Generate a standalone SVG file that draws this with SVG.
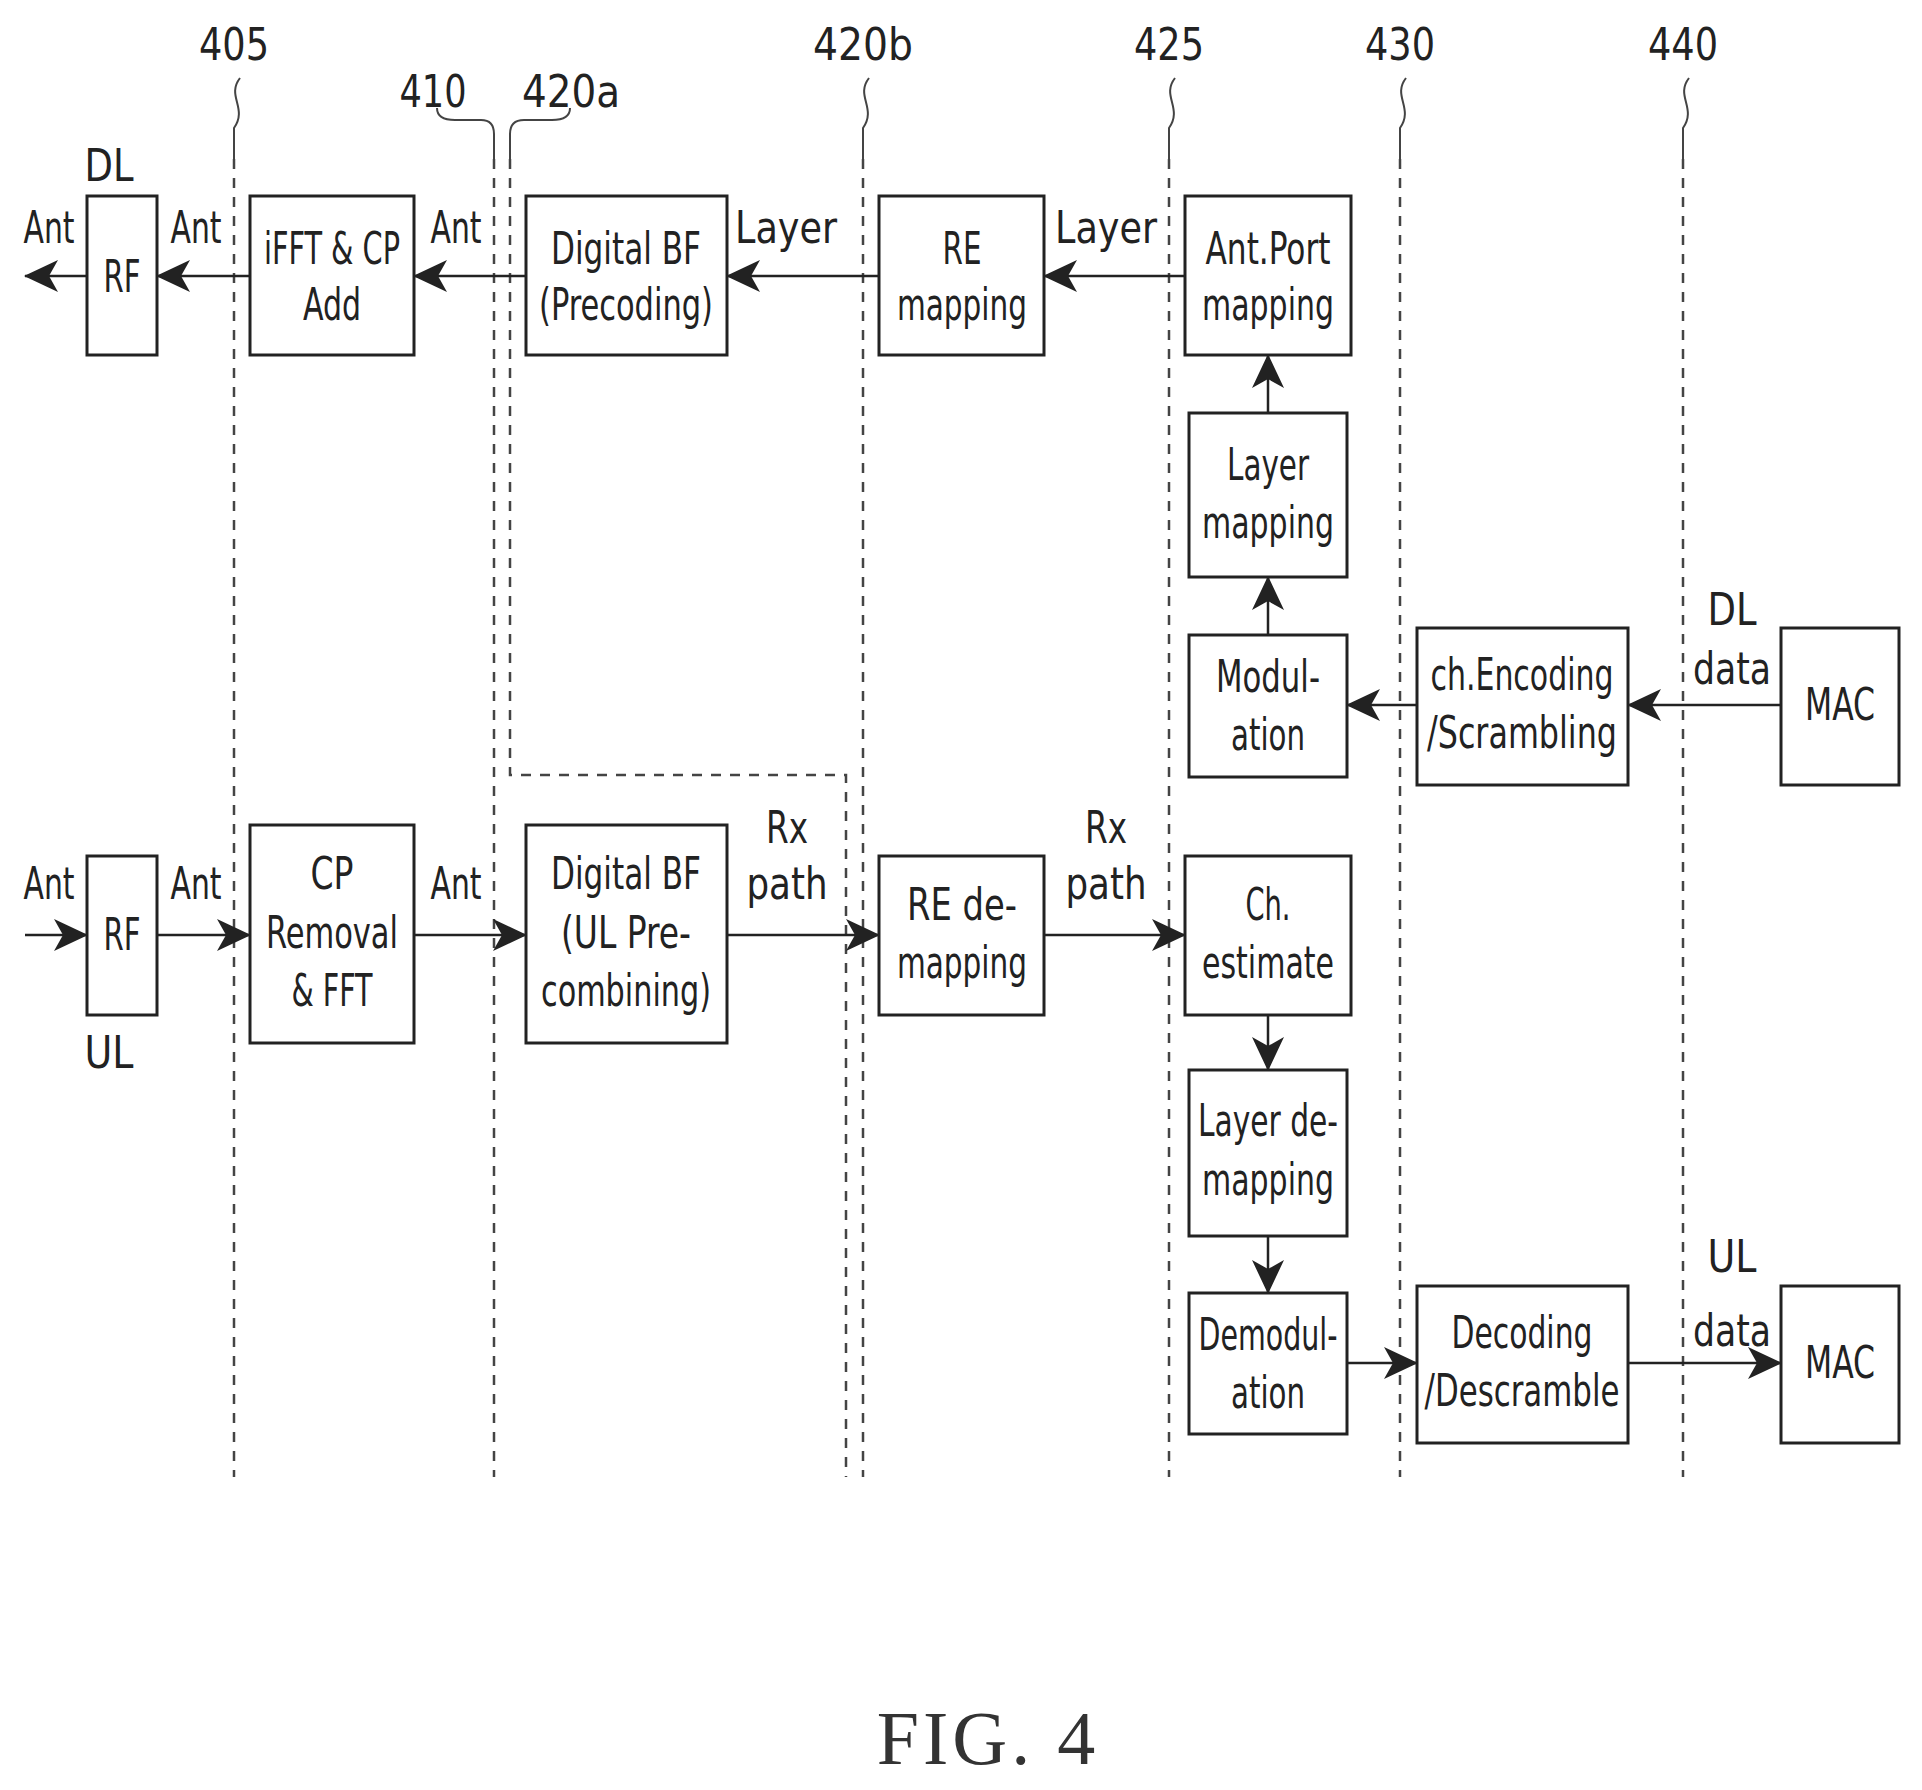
<svg xmlns="http://www.w3.org/2000/svg" width="1922" height="1790" viewBox="0 0 1922 1790">
<style>
.b{fill:#fff;stroke:#222;stroke-width:3}
.t{font-family:"DejaVu Sans Condensed","DejaVu Sans",sans-serif;font-stretch:condensed;font-size:44px;fill:#222;text-anchor:middle}
.c{stroke:#222;stroke-width:2.5;fill:none}
.d{stroke:#444;stroke-width:2.5;fill:none;stroke-dasharray:10,9}
.w{stroke:#444;stroke-width:2;fill:none}
</style>
<defs>
<marker id="a" viewBox="0 0 34 32" refX="33" refY="16" markerWidth="34" markerHeight="32" markerUnits="userSpaceOnUse" orient="auto">
<path d="M0,0 L34,16 L0,32 L9,16 Z" fill="#222"/>
</marker>
</defs>
<rect width="1922" height="1790" fill="#fff"/>
<g id="guides">
<path class="d" d="M234,159 V1477"/>
<path class="d" d="M494,159 V1477"/>
<path class="d" d="M510,159 V775 H846 V1477"/>
<path class="d" d="M863,159 V1477"/>
<path class="d" d="M1169,159 V1477"/>
<path class="d" d="M1400,159 V1477"/>
<path class="d" d="M1683,159 V1477"/>
<path class="w" d="M240,78 c-14,18 8,30 -6,50 v31"/>
<path class="w" d="M437,108 q0,12 18,12 h26 q13,0 13,14 v25"/>
<path class="w" d="M570,108 q0,12 -18,12 h-28 q-14,0 -14,14 v25"/>
<path class="w" d="M869,78 c-14,18 8,30 -6,50 v31"/>
<path class="w" d="M1175,78 c-14,18 8,30 -6,50 v31"/>
<path class="w" d="M1406,78 c-14,18 8,30 -6,50 v31"/>
<path class="w" d="M1689,78 c-14,18 8,30 -6,50 v31"/>
<text class="t" x="234" y="60" textLength="70" lengthAdjust="spacingAndGlyphs">405</text>
<text class="t" x="433" y="107" textLength="67" lengthAdjust="spacingAndGlyphs">410</text>
<text class="t" x="571" y="107" textLength="98" lengthAdjust="spacingAndGlyphs">420a</text>
<text class="t" x="863" y="60" textLength="100" lengthAdjust="spacingAndGlyphs">420b</text>
<text class="t" x="1169" y="60" textLength="70" lengthAdjust="spacingAndGlyphs">425</text>
<text class="t" x="1400" y="60" textLength="70" lengthAdjust="spacingAndGlyphs">430</text>
<text class="t" x="1683" y="60" textLength="70" lengthAdjust="spacingAndGlyphs">440</text>
</g>
<g id="connectors">
<path class="c" marker-end="url(#a)" d="M87,276 H25"/>
<path class="c" marker-end="url(#a)" d="M250,276 H157"/>
<path class="c" marker-end="url(#a)" d="M526,276 H414"/>
<path class="c" marker-end="url(#a)" d="M879,276 H727"/>
<path class="c" marker-end="url(#a)" d="M1185,276 H1044"/>
<path class="c" marker-end="url(#a)" d="M1268,413 V355"/>
<path class="c" marker-end="url(#a)" d="M1268,635 V577"/>
<path class="c" marker-end="url(#a)" d="M1417,705 H1347"/>
<path class="c" marker-end="url(#a)" d="M1781,705 H1628"/>
<path class="c" marker-end="url(#a)" d="M25,935 H87"/>
<path class="c" marker-end="url(#a)" d="M157,935 H250"/>
<path class="c" marker-end="url(#a)" d="M414,935 H526"/>
<path class="c" marker-end="url(#a)" d="M727,935 H879"/>
<path class="c" marker-end="url(#a)" d="M1044,935 H1185"/>
<path class="c" marker-end="url(#a)" d="M1268,1015 V1070"/>
<path class="c" marker-end="url(#a)" d="M1268,1236 V1293"/>
<path class="c" marker-end="url(#a)" d="M1347,1363 H1417"/>
<path class="c" marker-end="url(#a)" d="M1628,1363 H1781"/>
<text class="t" x="49" y="243" textLength="51" lengthAdjust="spacingAndGlyphs">Ant</text>
<text class="t" x="196" y="243" textLength="51" lengthAdjust="spacingAndGlyphs">Ant</text>
<text class="t" x="456" y="243" textLength="51" lengthAdjust="spacingAndGlyphs">Ant</text>
<text class="t" x="786" y="243" textLength="102" lengthAdjust="spacingAndGlyphs">Layer</text>
<text class="t" x="1106" y="243" textLength="102" lengthAdjust="spacingAndGlyphs">Layer</text>
<text class="t" x="109" y="181" textLength="49" lengthAdjust="spacingAndGlyphs">DL</text>
<text class="t" x="1732" y="625" textLength="49" lengthAdjust="spacingAndGlyphs">DL</text>
<text class="t" x="1732" y="684" textLength="78" lengthAdjust="spacingAndGlyphs">data</text>
<text class="t" x="49" y="899" textLength="51" lengthAdjust="spacingAndGlyphs">Ant</text>
<text class="t" x="196" y="899" textLength="51" lengthAdjust="spacingAndGlyphs">Ant</text>
<text class="t" x="456" y="899" textLength="51" lengthAdjust="spacingAndGlyphs">Ant</text>
<text class="t" x="109" y="1068" textLength="49" lengthAdjust="spacingAndGlyphs">UL</text>
<text class="t" x="787" y="843" textLength="42" lengthAdjust="spacingAndGlyphs">Rx</text>
<text class="t" x="787" y="899" textLength="81" lengthAdjust="spacingAndGlyphs">path</text>
<text class="t" x="1106" y="843" textLength="42" lengthAdjust="spacingAndGlyphs">Rx</text>
<text class="t" x="1106" y="899" textLength="81" lengthAdjust="spacingAndGlyphs">path</text>
<text class="t" x="1732" y="1272" textLength="49" lengthAdjust="spacingAndGlyphs">UL</text>
<text class="t" x="1732" y="1346" textLength="78" lengthAdjust="spacingAndGlyphs">data</text>
</g>
<g id="dl-rf"><rect class="b" x="87" y="196" width="70" height="159"/><text class="t" x="122" y="292" textLength="37" lengthAdjust="spacingAndGlyphs">RF</text></g>
<g id="ifft"><rect class="b" x="250" y="196" width="164" height="159"/><text class="t" x="332" y="264" textLength="136" lengthAdjust="spacingAndGlyphs">iFFT &amp; CP</text><text class="t" x="332" y="320" textLength="58" lengthAdjust="spacingAndGlyphs">Add</text></g>
<g id="dbf-dl"><rect class="b" x="526" y="196" width="201" height="159"/><text class="t" x="626" y="264" textLength="150" lengthAdjust="spacingAndGlyphs">Digital BF</text><text class="t" x="626" y="320" textLength="174" lengthAdjust="spacingAndGlyphs">(Precoding)</text></g>
<g id="re-map"><rect class="b" x="879" y="196" width="165" height="159"/><text class="t" x="962" y="264" textLength="39" lengthAdjust="spacingAndGlyphs">RE</text><text class="t" x="962" y="320" textLength="130" lengthAdjust="spacingAndGlyphs">mapping</text></g>
<g id="antport"><rect class="b" x="1185" y="196" width="166" height="159"/><text class="t" x="1268" y="264" textLength="125" lengthAdjust="spacingAndGlyphs">Ant.Port</text><text class="t" x="1268" y="320" textLength="132" lengthAdjust="spacingAndGlyphs">mapping</text></g>
<g id="layermap"><rect class="b" x="1189" y="413" width="158" height="164"/><text class="t" x="1268" y="480" textLength="82" lengthAdjust="spacingAndGlyphs">Layer</text><text class="t" x="1268" y="538" textLength="132" lengthAdjust="spacingAndGlyphs">mapping</text></g>
<g id="modulation"><rect class="b" x="1189" y="635" width="158" height="142"/><text class="t" x="1268" y="692" textLength="104" lengthAdjust="spacingAndGlyphs">Modul-</text><text class="t" x="1268" y="750" textLength="74" lengthAdjust="spacingAndGlyphs">ation</text></g>
<g id="chenc"><rect class="b" x="1417" y="628" width="211" height="157"/><text class="t" x="1522" y="690" textLength="183" lengthAdjust="spacingAndGlyphs">ch.Encoding</text><text class="t" x="1522" y="748" textLength="190" lengthAdjust="spacingAndGlyphs">/Scrambling</text></g>
<g id="mac-dl"><rect class="b" x="1781" y="628" width="118" height="157"/><text class="t" x="1840" y="720" textLength="70" lengthAdjust="spacingAndGlyphs">MAC</text></g>
<g id="ul-rf"><rect class="b" x="87" y="856" width="70" height="159"/><text class="t" x="122" y="950" textLength="37" lengthAdjust="spacingAndGlyphs">RF</text></g>
<g id="cprem"><rect class="b" x="250" y="825" width="164" height="218"/><text class="t" x="332" y="889" textLength="43" lengthAdjust="spacingAndGlyphs">CP</text><text class="t" x="332" y="948" textLength="132" lengthAdjust="spacingAndGlyphs">Removal</text><text class="t" x="332" y="1006" textLength="81" lengthAdjust="spacingAndGlyphs">&amp; FFT</text></g>
<g id="dbf-ul"><rect class="b" x="526" y="825" width="201" height="218"/><text class="t" x="626" y="889" textLength="150" lengthAdjust="spacingAndGlyphs">Digital BF</text><text class="t" x="626" y="948" textLength="130" lengthAdjust="spacingAndGlyphs">(UL Pre-</text><text class="t" x="626" y="1006" textLength="170" lengthAdjust="spacingAndGlyphs">combining)</text></g>
<g id="re-demap"><rect class="b" x="879" y="856" width="165" height="159"/><text class="t" x="962" y="920" textLength="110" lengthAdjust="spacingAndGlyphs">RE de-</text><text class="t" x="962" y="978" textLength="130" lengthAdjust="spacingAndGlyphs">mapping</text></g>
<g id="chest"><rect class="b" x="1185" y="856" width="166" height="159"/><text class="t" x="1268" y="920" textLength="45" lengthAdjust="spacingAndGlyphs">Ch.</text><text class="t" x="1268" y="978" textLength="132" lengthAdjust="spacingAndGlyphs">estimate</text></g>
<g id="layerdemap"><rect class="b" x="1189" y="1070" width="158" height="166"/><text class="t" x="1268" y="1136" textLength="140" lengthAdjust="spacingAndGlyphs">Layer de-</text><text class="t" x="1268" y="1195" textLength="132" lengthAdjust="spacingAndGlyphs">mapping</text></g>
<g id="demod"><rect class="b" x="1189" y="1293" width="158" height="141"/><text class="t" x="1268" y="1350" textLength="139" lengthAdjust="spacingAndGlyphs">Demodul-</text><text class="t" x="1268" y="1408" textLength="74" lengthAdjust="spacingAndGlyphs">ation</text></g>
<g id="decoding"><rect class="b" x="1417" y="1286" width="211" height="157"/><text class="t" x="1522" y="1348" textLength="141" lengthAdjust="spacingAndGlyphs">Decoding</text><text class="t" x="1522" y="1406" textLength="195" lengthAdjust="spacingAndGlyphs">/Descramble</text></g>
<g id="mac-ul"><rect class="b" x="1781" y="1286" width="118" height="157"/><text class="t" x="1840" y="1378" textLength="70" lengthAdjust="spacingAndGlyphs">MAC</text></g>
<text x="988" y="1764" font-family="Liberation Serif,serif" font-size="76" fill="#333" text-anchor="middle" letter-spacing="4">FIG. 4</text>
</svg>
